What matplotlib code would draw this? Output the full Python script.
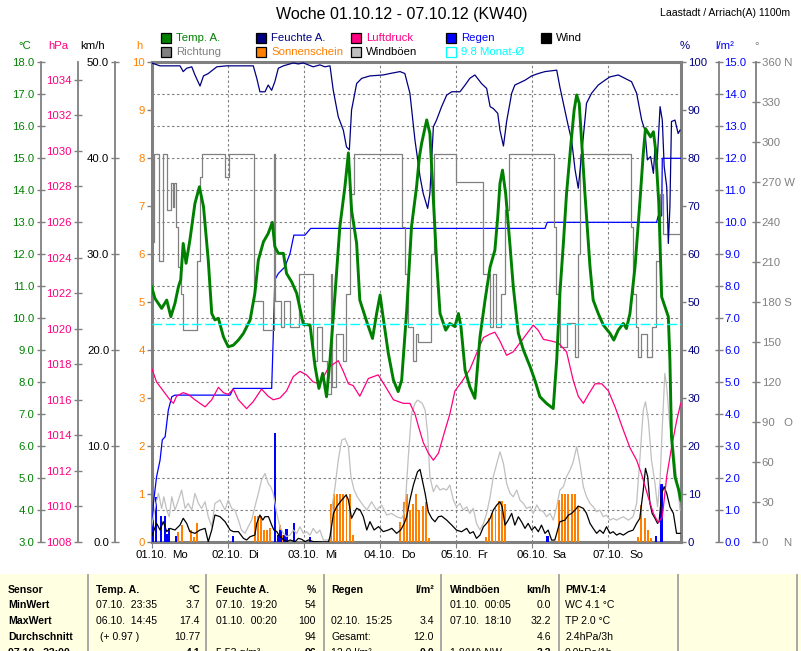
import matplotlib
matplotlib.use("Agg")
import matplotlib.pyplot as plt
from matplotlib.patches import Rectangle
from matplotlib.lines import Line2D
from matplotlib.ticker import FixedLocator, FuncFormatter
import matplotlib.transforms as mtransforms

plt.rcParams['font.family'] = ['Liberation Sans', 'DejaVu Sans']

# ---------------- texts ----------------
title = "Woche 01.10.12 - 07.10.12 (KW40)"
station = "Laastadt / Arriach(A) 1100m"
day_labels = ["01.10.", "02.10.", "03.10.", "04.10.", "05.10.", "06.10.", "07.10."]
weekdays = ["Mo", "Di", "Mi", "Do", "Fr", "Sa", "So"]

# ---------------- data (time in hours since 01.10. 00:00) ----------------
temp = [(0.0, 10.98), (1.1, 10.61), (3.2, 10.30), (4.8, 10.56), (6.1, 10.04), (7.4, 10.46),
        (8.5, 10.98), (9.2, 11.19), (10.0, 12.33), (10.9, 11.71), (12.1, 12.43), (13.7, 13.58),
        (15.1, 14.10), (16.4, 13.48), (17.9, 11.81), (19.0, 10.14), (20.0, 9.94), (21.1, 9.99),
        (22.7, 9.41), (24.2, 9.10), (25.8, 9.15), (27.4, 9.31), (29.0, 9.52), (31.1, 9.94),
        (32.6, 10.77), (33.7, 11.81), (35.3, 12.38), (36.8, 12.64), (38.1, 12.99), (38.9, 12.23),
        (40.0, 12.02), (41.6, 12.02), (42.6, 11.39), (44.2, 11.13), (45.8, 10.77), (47.9, 9.80),
        (50.0, 9.78), (51.6, 8.48), (52.8, 7.80), (54.0, 8.27), (55.2, 7.54), (56.3, 8.69),
        (57.9, 10.77), (59.4, 12.85), (61.0, 14.10), (62.1, 15.16), (63.1, 13.37), (64.7, 12.33),
        (65.7, 10.56), (67.9, 9.88), (69.7, 9.36), (71.0, 10.14), (72.1, 10.72), (73.1, 9.99),
        (74.7, 8.89), (76.3, 8.06), (77.8, 7.70), (78.9, 8.06), (80.5, 10.25), (82.0, 12.85),
        (83.6, 14.10), (84.5, 15.04), (85.2, 15.46), (86.8, 16.19), (87.8, 15.77), (88.9, 13.69),
        (89.9, 11.81), (91.0, 10.14), (92.8, 9.62), (94.1, 9.83), (95.7, 9.73), (96.8, 10.14),
        (97.6, 9.73), (98.9, 8.37), (100.4, 7.85), (102.0, 7.49), (103.6, 9.41), (105.2, 10.56),
        (106.8, 11.60), (108.3, 12.12), (109.2, 13.16), (109.9, 14.20), (110.7, 14.62),
        (111.7, 13.89), (113.1, 12.23), (114.1, 10.98), (115.7, 9.52), (117.3, 9.00), (119.4, 8.48),
        (120.9, 8.06), (122.5, 7.54), (124.6, 7.33), (126.7, 7.17), (127.8, 8.69), (128.8, 10.77),
        (129.9, 12.33), (130.9, 13.89), (132.3, 15.46), (133.3, 16.50), (134.1, 16.97),
        (134.9, 16.71), (135.7, 15.46), (136.7, 13.89), (138.3, 11.60), (139.3, 10.56),
        (140.9, 10.14), (142.5, 9.78), (144.6, 9.52), (145.8, 9.31), (147.2, 9.62), (148.8, 9.83),
        (149.8, 9.67), (150.9, 10.14), (152.5, 11.60), (154.0, 13.58), (155.1, 15.14),
        (155.8, 15.92), (156.7, 15.77), (157.4, 15.66), (158.3, 15.82), (159.0, 15.25),
        (160.0, 13.58), (160.9, 10.66), (163.0, 10.04), (163.5, 8.69), (164.0, 6.29),
        (165.1, 5.04), (166.3, 4.62), (166.9, 4.31)]

humidity = [(0.0, 99.8), (2.7, 99.2), (9.0, 99.2), (10.0, 98.0), (11.1, 98.7), (12.7, 99.0),
            (13.7, 97.3), (15.3, 95.0), (16.4, 97.1), (17.9, 97.6), (20.6, 99.0), (23.7, 99.2),
            (32.1, 99.2), (33.2, 96.6), (34.2, 93.8), (35.8, 93.8), (36.8, 95.2), (37.9, 94.1),
            (38.9, 95.9), (40.0, 98.7), (41.6, 99.2), (44.7, 99.8), (46.3, 99.6), (47.9, 99.8),
            (51.0, 99.0), (53.1, 99.4), (54.7, 99.0), (56.3, 99.2), (57.3, 94.2), (58.9, 88.6),
            (60.5, 85.8), (61.5, 82.3), (62.4, 81.7), (63.1, 90.0), (64.7, 95.5), (66.3, 96.6),
            (68.9, 97.1), (73.1, 97.3), (75.2, 97.6), (78.4, 98.0), (79.9, 97.6), (81.5, 93.5),
            (83.1, 83.7), (84.7, 76.1), (85.7, 72.6), (87.1, 69.5), (87.8, 72.6), (88.9, 86.5),
            (89.9, 87.9), (91.5, 90.7), (93.1, 93.1), (94.7, 93.8), (97.3, 93.8), (98.9, 95.2),
            (100.4, 96.6), (102.0, 97.3), (104.1, 95.5), (105.7, 94.5), (106.8, 90.7),
            (107.8, 90.3), (109.2, 89.3), (109.9, 85.8), (111.0, 82.5), (112.0, 87.6),
            (113.6, 93.5), (114.6, 95.2), (117.8, 96.2), (119.9, 97.1), (122.0, 97.6),
            (124.1, 98.0), (127.8, 98.3), (128.8, 94.8), (129.9, 91.4), (131.5, 86.5),
            (132.5, 83.7), (133.6, 77.5), (134.6, 73.7), (135.7, 81.0), (137.2, 91.4),
            (138.8, 93.5), (140.9, 95.2), (143.0, 96.2), (144.6, 96.9), (147.2, 97.3),
            (149.3, 96.6), (151.4, 95.9), (153.0, 93.5), (154.6, 87.9), (155.6, 85.8),
            (156.4, 79.6), (157.4, 80.3), (158.3, 76.8), (158.8, 82.3), (159.5, 79.6),
            (160.4, 90.7), (161.1, 87.9), (161.7, 78.2), (162.5, 74.0), (163.0, 62.2),
            (163.5, 69.8), (164.0, 87.6), (165.1, 87.9), (166.1, 85.1), (166.7, 85.8)]

pressure = [(0.0, 1017.8), (1.6, 1017.0), (3.7, 1016.5), (5.8, 1016.0), (6.9, 1015.8),
            (7.9, 1016.2), (10.0, 1016.4), (11.6, 1016.3), (13.7, 1016.0), (16.9, 1015.6),
            (19.0, 1016.0), (21.1, 1016.7), (22.7, 1016.4), (24.2, 1016.3), (25.8, 1016.6),
            (27.4, 1016.0), (30.0, 1015.5), (32.1, 1015.9), (34.7, 1016.6), (36.8, 1016.2),
            (38.4, 1016.0), (40.5, 1016.1), (42.6, 1016.5), (44.7, 1017.3), (46.8, 1017.6),
            (48.9, 1017.4), (51.0, 1017.0), (53.1, 1016.9), (55.8, 1017.8), (57.3, 1018.0),
            (58.9, 1018.2), (60.5, 1017.6), (62.1, 1016.9), (63.6, 1016.8), (65.7, 1016.2),
            (68.4, 1017.2), (71.5, 1017.4), (73.6, 1016.8), (76.3, 1016.0), (79.4, 1015.8),
            (81.5, 1015.8), (83.1, 1015.2), (84.2, 1014.5), (85.7, 1013.6), (87.3, 1013.0),
            (88.9, 1012.6), (90.5, 1013.0), (92.6, 1014.3), (94.1, 1015.2), (95.7, 1016.5),
            (97.8, 1017.0), (100.4, 1017.7), (102.5, 1018.6), (104.7, 1019.5), (106.8, 1019.7),
            (108.3, 1019.8), (109.9, 1019.3), (112.0, 1018.5), (114.1, 1018.7), (116.2, 1019.2),
            (118.3, 1019.7), (120.4, 1020.2), (122.0, 1019.9), (123.6, 1019.4), (126.2, 1019.3),
            (128.3, 1019.2), (130.9, 1018.7), (133.0, 1017.1), (134.6, 1016.2), (136.2, 1015.8),
            (137.8, 1016.3), (139.9, 1016.9), (142.0, 1016.9), (144.1, 1016.5), (146.2, 1015.6),
            (148.8, 1014.3), (150.9, 1013.3), (153.0, 1012.6), (154.6, 1011.8), (156.7, 1010.5),
            (158.3, 1009.6), (159.8, 1009.1), (161.1, 1009.4), (162.5, 1011.7), (164.0, 1013.3),
            (165.6, 1014.8), (166.9, 1015.8)]

direction = [(0.0, 225), (0.8, 291), (2.3, 211), (3.5, 291), (5.0, 249), (6.0, 269), (6.7, 251),
             (7.2, 269), (7.7, 236), (8.4, 206), (9.2, 186), (9.8, 159), (14.2, 211), (15.3, 274),
             (16.0, 291), (23.3, 274), (24.3, 291), (32.3, 181), (35.3, 159), (38.6, 291),
             (39.1, 181), (40.7, 161), (41.8, 181), (43.7, 161), (46.6, 201), (51.0, 136),
             (52.1, 161), (53.7, 136), (55.2, 111), (56.6, 201), (57.0, 116), (58.2, 156),
             (60.5, 136), (61.5, 186), (62.6, 261), (63.9, 291), (79.1, 236), (79.9, 201),
             (81.0, 161), (82.4, 136), (83.4, 156), (84.1, 150), (88.1, 216), (89.2, 291),
             (95.9, 270), (104.4, 201), (106.8, 161), (107.6, 201), (108.6, 161), (110.2, 186),
             (111.5, 249), (112.7, 291), (126.8, 236), (127.5, 186), (128.8, 146), (131.2, 164),
             (133.6, 139), (134.6, 216), (135.2, 291), (151.1, 236), (151.9, 186), (152.7, 161),
             (153.5, 139), (154.4, 156), (156.2, 139), (157.9, 161), (159.0, 211), (160.4, 261),
             (161.4, 231), (167.0, 231)]

rain_bars = [(0.4, 0.69), (1.4, 1.42), (2.9, 0.81), (4.3, 0.81), (4.8, 0.25), (5.6, 0.43),
             (7.7, 0.19), (25.8, 0.19), (38.9, 3.41), (39.8, 0.22), (40.7, 0.37), (41.9, 0.22),
             (42.6, 0.40), (44.9, 0.60), (50.0, 0.17), (124.9, 0.19), (159.1, 0.19), (160.9, 1.81)]

rain_sum = [(0.0, 0.0), (0.6, 1.21), (1.6, 2.04), (2.7, 2.56), (3.4, 3.19), (4.3, 3.29),
            (5.3, 4.12), (6.4, 4.54), (7.4, 4.59), (24.8, 4.59), (25.8, 4.80), (37.9, 4.80),
            (38.4, 6.41), (38.9, 8.19), (40.0, 8.39), (42.1, 8.60), (43.7, 9.02), (44.9, 9.59),
            (48.4, 9.59), (50.2, 9.80), (124.1, 9.80), (124.8, 9.99), (159.3, 9.99),
            (159.8, 10.19), (160.9, 10.19), (161.1, 11.99), (167.0, 11.99)]

sunshine = [(8.5, 0.20), (9.5, 0.35), (12.5, 0.25), (13.5, 0.10), (14.5, 0.40),
            (32.5, 0.55), (33.5, 0.55), (34.5, 0.55), (35.5, 0.25), (36.5, 0.25), (37.5, 0.30),
            (40.5, 0.35), (41.5, 0.15),
            (56.5, 0.80), (57.5, 1.0), (58.5, 1.0), (59.5, 1.0), (60.5, 1.0), (61.5, 1.0),
            (62.5, 1.0), (63.5, 0.15),
            (78.5, 0.42), (79.5, 0.84), (80.5, 1.0), (81.5, 0.67), (82.5, 0.80), (83.5, 1.0),
            (84.5, 0.67), (85.5, 0.74), (86.5, 0.84), (87.5, 0.08),
            (105.5, 0.10), (106.5, 0.50), (107.5, 0.60), (108.5, 0.70), (109.5, 0.85),
            (110.5, 0.85), (111.5, 0.80),
            (128.5, 0.87), (129.5, 1.0), (130.5, 1.0), (131.5, 1.0), (132.5, 1.0), (133.5, 1.0),
            (134.5, 0.75),
            (153.5, 0.10), (154.5, 0.77), (155.5, 0.50), (156.5, 0.25), (157.5, 0.08)]

wind = [(0.0, 0.55), (0.8, 1.25), (1.6, 1.94), (2.7, 1.25), (3.7, 2.12), (4.8, 1.08), (5.8, 1.42),
        (7.4, 1.25), (9.0, 1.77), (10.0, 2.47), (11.1, 1.94), (12.1, 1.08), (13.7, 0.90),
        (15.3, 1.25), (16.9, 1.42), (17.9, 0.03), (19.0, 1.25), (20.0, 2.81), (21.6, 2.64),
        (23.2, 2.12), (24.8, 1.25), (25.8, 1.08), (27.4, 1.08), (29.0, 0.38), (30.0, 0.21),
        (31.1, 0.55), (32.6, 0.73), (33.2, 1.94), (34.2, 2.81), (35.1, 2.29), (35.8, 2.64),
        (36.9, 2.64), (37.9, 1.77), (38.6, 1.25), (39.5, 1.08), (40.5, 0.55), (41.8, 0.21),
        (42.6, 0.03), (43.7, 0.21), (45.3, 0.03), (46.3, 0.38), (47.4, 0.28), (48.4, 0.03),
        (49.5, 0.21), (51.1, 0.03), (52.6, 0.03), (54.2, 0.0), (55.8, 0.0), (56.3, 0.55),
        (57.4, 2.99), (58.4, 3.68), (60.0, 4.38), (61.4, 4.90), (62.1, 4.38), (63.1, 2.47),
        (63.9, 2.99), (64.7, 3.51), (65.8, 3.33), (66.8, 2.64), (67.9, 1.25), (68.9, 2.12),
        (70.2, 1.25), (71.6, 1.60), (73.1, 1.08), (74.7, 1.25), (75.8, 1.42), (77.3, 0.90),
        (78.6, 1.25), (79.7, 1.94), (80.5, 2.64), (81.5, 4.38), (82.6, 5.94), (83.9, 7.32),
        (84.7, 7.56), (85.4, 6.45), (86.3, 5.06), (87.3, 3.15), (88.4, 2.46), (89.4, 2.11),
        (90.5, 2.63), (91.5, 2.70), (93.1, 2.28), (94.7, 1.76), (96.2, 1.24), (97.8, 1.07),
        (99.4, 1.42), (100.4, 0.90), (101.5, 1.07), (102.5, 0.38), (103.6, 0.72), (104.7, 1.59),
        (105.7, 1.94), (106.8, 2.46), (107.8, 3.33), (108.9, 3.85), (109.9, 4.19), (110.6, 3.67),
        (111.5, 1.76), (112.5, 2.28), (113.6, 2.98), (114.6, 1.76), (115.7, 2.63), (116.7, 2.11),
        (117.8, 1.42), (118.8, 1.94), (119.9, 1.24), (120.9, 1.59), (122.0, 1.07), (123.0, 1.76),
        (124.1, 0.90), (125.1, 1.24), (126.2, 0.20), (127.2, 0.20), (127.8, 0.90), (128.8, 2.11),
        (130.4, 2.28), (131.5, 2.80), (132.5, 2.98), (133.6, 3.33), (134.6, 3.74), (136.2, 3.50),
        (137.2, 2.98), (138.3, 1.94), (139.3, 1.42), (140.4, 0.90), (141.4, 1.24), (142.5, 0.90),
        (143.5, 1.59), (144.6, 0.90), (145.6, 1.07), (146.7, 0.72), (147.7, 0.90), (148.8, 0.72),
        (150.4, 1.07), (151.9, 1.24), (153.0, 1.94), (154.0, 2.46), (155.1, 5.41), (155.8, 7.67),
        (156.5, 6.80), (157.2, 4.02), (157.9, 2.98), (158.8, 2.46), (159.6, 1.94), (160.1, 2.11),
        (160.9, 5.06), (161.7, 5.76), (162.5, 5.06), (163.5, 3.67), (164.6, 2.98), (165.6, 0.90),
        (166.7, 0.90)]

gusts = [(0.0, 1.59), (0.8, 2.98), (1.4, 4.02), (2.2, 5.06), (3.2, 3.50), (3.9, 4.71), (4.8, 3.33),
         (5.6, 2.63), (6.4, 4.71), (7.4, 3.33), (8.5, 4.37), (9.5, 5.41), (10.6, 3.50), (11.6, 4.02),
         (12.7, 3.33), (13.7, 5.06), (14.8, 4.02), (15.8, 3.50), (16.9, 4.19), (17.9, 2.63),
         (19.0, 1.59), (20.0, 4.02), (21.6, 4.37), (23.2, 3.33), (24.2, 4.37), (25.3, 3.50),
         (26.3, 3.33), (27.4, 2.28), (28.4, 1.24), (29.5, 0.90), (30.5, 1.59), (31.6, 2.28),
         (32.6, 3.67), (33.7, 5.06), (34.7, 6.45), (35.8, 7.14), (36.8, 6.10), (37.6, 5.76),
         (38.4, 5.06), (39.5, 2.98), (40.5, 1.59), (41.6, 0.90), (42.6, 0.56), (43.7, 0.72),
         (44.7, 1.24), (45.8, 0.90), (46.8, 1.59), (47.9, 0.90), (48.9, 1.07), (50.0, 0.72),
         (51.0, 1.42), (52.1, 0.90), (53.1, 1.24), (54.2, 0.20), (55.2, 0.20), (56.3, 0.20),
         (57.1, 4.02), (57.9, 5.76), (58.9, 8.53), (60.0, 10.62), (61.0, 10.79), (62.1, 9.92),
         (62.9, 6.80), (63.9, 5.41), (64.9, 4.71), (66.3, 4.02), (67.9, 3.33), (69.4, 4.19),
         (71.0, 3.33), (72.6, 3.85), (74.2, 2.80), (75.7, 2.98), (77.3, 2.63), (78.9, 2.46),
         (79.9, 3.15), (81.0, 8.88), (82.0, 13.40), (83.1, 14.44), (83.9, 14.78), (84.7, 14.61),
         (85.4, 14.44), (86.3, 13.74), (87.1, 11.31), (87.8, 6.80), (88.9, 5.24), (89.9, 5.93),
         (91.0, 5.41), (92.0, 5.58), (93.1, 5.41), (94.1, 5.93), (95.2, 4.37), (96.2, 3.67),
         (97.3, 4.02), (98.3, 3.33), (99.4, 3.67), (100.4, 2.98), (101.5, 3.50), (102.5, 1.94),
         (103.6, 1.24), (104.7, 1.94), (105.7, 2.98), (106.8, 4.71), (107.8, 6.80), (108.9, 8.19),
         (109.9, 9.40), (111.0, 8.19), (112.0, 6.10), (113.1, 5.06), (114.1, 4.71), (115.2, 5.41),
         (116.2, 4.37), (117.3, 4.02), (118.3, 3.50), (119.4, 3.67), (120.4, 2.98), (121.5, 3.85),
         (122.5, 3.33), (123.6, 3.15), (124.6, 2.63), (125.7, 2.98), (126.7, 2.28), (127.8, 3.67),
         (128.8, 5.41), (129.9, 5.76), (130.9, 6.80), (132.0, 7.49), (133.0, 8.36), (134.1, 9.92),
         (135.1, 8.19), (136.2, 5.76), (137.2, 4.71), (138.3, 4.02), (139.3, 3.67), (140.4, 3.15),
         (141.4, 3.33), (142.5, 2.63), (143.5, 2.80), (144.6, 2.28), (145.6, 2.46), (146.7, 2.28),
         (147.7, 2.46), (148.8, 2.63), (150.4, 2.28), (151.9, 2.63), (153.0, 4.02), (154.0, 8.53),
         (155.1, 13.74), (155.8, 14.61), (156.7, 12.70), (157.7, 8.53), (158.8, 6.10),
         (159.6, 3.67), (160.4, 6.45), (161.1, 12.01), (161.9, 17.56), (162.5, 16.17),
         (163.5, 12.01), (164.6, 9.92), (165.6, 6.80), (166.7, 3.33)]

month_avg = 9.8

# table contents
table_header = ["Sensor", "Temp. A.", "°C", "Feuchte A.", "%", "Regen", "l/m²", "Windböen", "km/h", "PMV-1:4"]
row_names = ["MinWert", "MaxWert", "Durchschnitt", "07.10.  23:00"]
temp_col = [("07.10.  23:35", "3.7"), ("06.10.  14:45", "17.4"), ("(+ 0.97 )", "10.77"), ("", "4.1")]
hum_col = [("07.10.  19:20", "54"), ("01.10.  00:20", "100"), ("", "94"), ("5.53 g/m³", "96")]
rain_col = [("", ""), ("02.10.  15:25", "3.4"), ("Gesamt:", "12.0"), ("12.0 l/m²", "0.0")]
gust_col = [("01.10.  00:05", "0.0"), ("07.10.  18:10", "32.2"), ("", "4.6"), ("1.8(W) NW", "3.3")]
pmv_col = ["WC 4.1 °C", "TP 2.0 °C", "2.4hPa/3h", "0.0hPa/1h"]

# ---------------- figure ----------------
WPX, HPX = 801, 651
fig = plt.figure(figsize=(WPX / 100, HPX / 100), dpi=100)


def fx(px):
    return px / WPX


def fy(py):
    return 1 - py / HPX


PX0, PX1, PY0, PY1 = 151.5, 681.0, 62.0, 542.0
rect = [fx(PX0), fy(PY1), (PX1 - PX0) / WPX, (PY1 - PY0) / HPX]
XMAX = 167.0
GRAY = '#808080'
FS = 8.2


def spine_pos(px):
    return (px - PX0) / (PX1 - PX0)


base = fig.add_axes(rect, zorder=0)
base.set_xlim(0, XMAX)
base.set_ylim(3, 18)
base.set_facecolor('white')
base.set_xticks([24 * k for k in range(7)])
base.set_yticks(range(4, 18))
base.tick_params(axis='y', length=0, labelleft=False)
base.tick_params(axis='x', length=4, color=GRAY, labelbottom=False, direction='out')
base.grid(True, color=GRAY, lw=0.8, ls=(0, (2.2, 2.2)))
for s in base.spines.values():
    s.set_color(GRAY)
    s.set_linewidth(2.2)

blend = mtransforms.blended_transform_factory(base.transData, fig.transFigure)
for k, (d, w) in enumerate(zip(day_labels, weekdays)):
    base.text(24 * k, fy(555), d, transform=blend, ha='center', va='center', fontsize=FS)
    off = mtransforms.offset_copy(blend, fig=fig, x=21, y=0, units='dots')
    base.text(24 * k, fy(555), w, transform=off, ha='left', va='center', fontsize=FS)


def make_ax(z, ylim):
    a = fig.add_axes(rect, zorder=z)
    a.set_xlim(0, XMAX)
    a.set_ylim(*ylim)
    a.patch.set_visible(False)
    for s in a.spines.values():
        s.set_visible(False)
    a.set_xticks([])
    return a


def side_axis(a, side, pos, ticks, fmt, color, inout=True):
    a.yaxis.set_ticks_position(side)
    a.yaxis.set_label_position(side)
    if pos is not None:
        sp = a.spines[side]
        sp.set_visible(True)
        sp.set_position(('axes', pos))
        sp.set_color(GRAY)
        sp.set_linewidth(1.3)
    a.yaxis.set_major_locator(FixedLocator(ticks))
    a.yaxis.set_major_formatter(FuncFormatter(fmt))
    a.tick_params(axis='y', which='major', direction='inout' if inout else 'out',
                  length=6 if inout else 3.6, width=1, color=GRAY, labelcolor=color,
                  labelsize=FS, pad=1.2)


# sunshine (h axis)
ax_h = make_ax(1, (0, 10))
side_axis(ax_h, 'left', None, list(range(0, 11)), lambda v, p: f"{v:.0f}", '#FF8000', inout=False)
st, sv = zip(*sunshine)
ax_h.bar(st, sv, width=0.62, color='#FF8000', align='center')

# rain (l/m²)
ax_R = make_ax(2, (0, 15))
side_axis(ax_R, 'right', spine_pos(718.5), [i for i in range(16)], lambda v, p: f"{v:.1f}", '#0000FF')
rt, rv = zip(*rain_bars)
ax_R.bar(rt, rv, width=0.75, color='#0000FF', align='center')
rst, rsv = zip(*rain_sum)
ax_R.plot(rst, rsv, color='#0000FF', lw=0.9)

# direction
ax_D = make_ax(3, (0, 360))
dir_names = {0: '0     N', 90: '90   O', 180: '180 S', 270: '270 W', 360: '360 N'}
side_axis(ax_D, 'right', spine_pos(756), list(range(0, 361, 30)),
          lambda v, p: dir_names.get(int(round(v)), f"{v:.0f}"), GRAY)
dt, dv = zip(*direction)
ax_D.plot(dt, dv, color=GRAY, lw=0.9, drawstyle='steps-post')

# wind / gusts
ax_W = make_ax(4, (0, 50))
side_axis(ax_W, 'left', spine_pos(115), list(range(0, 51, 10)), lambda v, p: f"{v:.1f}", 'black')
gt, gv = zip(*gusts)
ax_W.plot(gt, gv, color='#C0C0C0', lw=0.9)
wt, wv = zip(*wind)
ax_W.plot(wt, wv, color='black', lw=0.9)

# pressure
ax_P = make_ax(5, (1008, 1035))
side_axis(ax_P, 'left', spine_pos(77.5), list(range(1008, 1035, 2)), lambda v, p: f"{v:.0f}", '#FF0080')
pt, pv = zip(*pressure)
ax_P.plot(pt, pv, color='#FF0080', lw=0.9)

# humidity
ax_H = make_ax(6, (0, 100))
side_axis(ax_H, 'right', None, list(range(0, 101, 10)), lambda v, p: f"{v:.0f}", '#000080', inout=False)
ht, hv = zip(*humidity)
ax_H.plot(ht, hv, color='#000080', lw=0.9)

# temperature
ax_T = make_ax(7, (3, 18))
side_axis(ax_T, 'left', spine_pos(40.5), list(range(3, 19)), lambda v, p: f"{v:.1f}", '#008000')
tt, tv = zip(*temp)
ax_T.plot(tt, tv, color='#008000', lw=2.1, solid_joinstyle='round')
ax_T.axhline(month_avg, color='#00FFFF', lw=1.0, dashes=(7, 2.5))

# axis headers
headers = [(25, '°C', '#008000'), (58, 'hPa', '#FF0080'), (93, 'km/h', 'black'), (139, 'h', '#FF8000'),
           (685, '%', '#000080'), (725, 'l/m²', '#0000FF'), (757, '°', GRAY)]
for x, t, c in headers:
    fig.text(fx(x), fy(46), t, color=c, ha='center', va='center', fontsize=FS)

# title
fig.text(fx(402), fy(14), title, ha='center', va='center', fontsize=11.5)
fig.text(fx(660), fy(13), station, ha='left', va='center', fontsize=7.6)

# legend
legend_rows = [
    [("Temp. A.", '#008000', '#008000'), ("Feuchte A.", '#000080', '#000080'),
     ("Luftdruck", '#FF0080', '#FF0080'), ("Regen", '#0000FF', '#0000FF'), ("Wind", 'black', 'black')],
    [("Richtung", GRAY, GRAY), ("Sonnenschein", '#FF8000', '#FF8000'),
     ("Windböen", '#C0C0C0', 'black'), ("9.8 Monat-Ø", None, '#00FFFF')],
]
for r, row in enumerate(legend_rows):
    yc = 38 + 14 * r
    for c, (lab, fc, tc) in enumerate(row):
        x0 = 161 + 95 * c
        if fc is None:
            box = Rectangle((fx(x0), fy(yc + 5)), 10 / WPX, 10 / HPX, transform=fig.transFigure,
                            facecolor='white', edgecolor='#00FFFF', lw=0.9)
        else:
            box = Rectangle((fx(x0), fy(yc + 5)), 10 / WPX, 10 / HPX, transform=fig.transFigure,
                            facecolor=fc, edgecolor='black', lw=0.9)
        fig.patches.append(box)
        fig.text(fx(x0 + 15), fy(yc), lab, color=tc, ha='left', va='center', fontsize=FS)

# ---------------- table ----------------
fig.patches.append(Rectangle((0, 0), 1, fy(574), transform=fig.transFigure,
                             facecolor='#FFFFE1', edgecolor='none', zorder=-5))
for xs in [87.7, 205.7, 324.3, 441, 559, 677.7, 796.7]:
    fig.lines.append(Line2D([fx(xs), fx(xs)], [0, fy(575)], transform=fig.transFigure,
                            color='#A0A0A0', lw=1.3))

TFS = 7.6
row_y = [590, 605, 621, 637, 653]


def tt_(x, y, s, ha='left', bold=False, color='black'):
    fig.text(fx(x), fy(y), s, ha=ha, va='center', fontsize=TFS,
             fontweight='bold' if bold else 'normal', color=color)


# header row
tt_(8, row_y[0], table_header[0], bold=True)
tt_(96, row_y[0], table_header[1], bold=True)
tt_(200, row_y[0], table_header[2], ha='right', bold=True)
tt_(216, row_y[0], table_header[3], bold=True)
tt_(316, row_y[0], table_header[4], ha='right', bold=True)
tt_(331, row_y[0], table_header[5], bold=True)
tt_(434, row_y[0], table_header[6], ha='right', bold=True)
tt_(450, row_y[0], table_header[7], bold=True)
tt_(551, row_y[0], table_header[8], ha='right', bold=True)
tt_(565, row_y[0], table_header[9], bold=True)

for i in range(4):
    y = row_y[i + 1]
    last = (i == 3)
    tt_(8, y, row_names[i], bold=True)
    tt_(96 if i != 2 else 100, y, temp_col[i][0])
    tt_(200, y, temp_col[i][1], ha='right', bold=last)
    tt_(216, y, hum_col[i][0])
    tt_(316, y, hum_col[i][1], ha='right', bold=last)
    tt_(331, y, rain_col[i][0])
    tt_(434, y, rain_col[i][1], ha='right', bold=last)
    tt_(450, y, gust_col[i][0])
    tt_(551, y, gust_col[i][1], ha='right', bold=last)
    tt_(565, y, pmv_col[i])

fig.savefig('out.png', dpi=100)
